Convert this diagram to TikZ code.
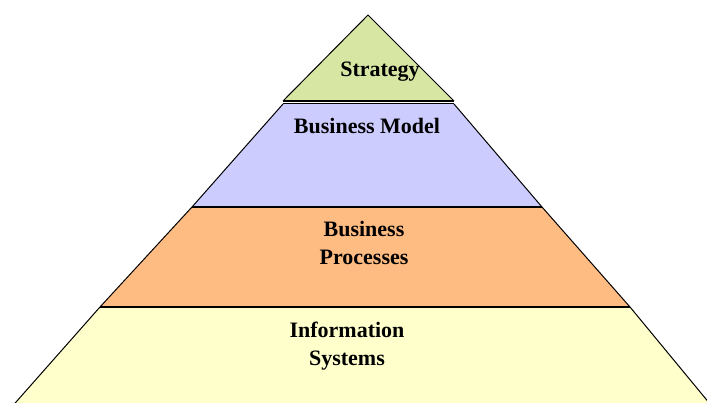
\documentclass[tikz,border=0pt]{standalone}
\usepackage{fontspec}
\setmainfont{Liberation Serif}
\definecolor{stratgreen}{RGB}{216,230,164}
\definecolor{modelblue}{RGB}{204,204,255}
\definecolor{procorange}{RGB}{255,188,130}
\definecolor{infoyellow}{RGB}{255,255,204}
\tikzset{
  layer/.style   = {draw=none},
  edge/.style    = {draw, line width=1pt},
  divider/.style = {draw, line width=2pt},
  tier/.style    = {align=center, inner sep=0pt,
                    font=\fontsize{22}{28}\selectfont\bfseries}
}
\begin{document}
\begin{tikzpicture}[x=1pt, y=-1pt]
\useasboundingbox (0,0) rectangle (707,403);
\clip (0,0) rectangle (707,403);
% layers of the pyramid
\fill[layer, infoyellow] (100,307) -- (630,307) -- (715,410) -- (9,410) -- cycle;
\fill[layer, procorange] (192,207) -- (542,207) -- (630,307) -- (100,307) -- cycle;
\fill[layer, modelblue]  (283,104) -- (454,104) -- (542,207) -- (192,207) -- cycle;
\fill[layer, stratgreen] (368,15) -- (454,101) -- (283,101) -- cycle;
% outline
\draw[edge] (283,101) -- (368,15) -- (454,101);
\draw[edge] (283,104) -- (192,207) -- (100,307) -- (9,410);
\draw[edge] (454,104) -- (542,207) -- (630,307) -- (715,410);
% dividers
\draw[divider] (283,101) -- (454,101);
\draw[edge] (283,104) -- (454,104);
\draw[divider] (192,207) -- (542,207);
\draw[divider] (100,307) -- (630,307);
% labels
\node[tier] (strategy) at (380,72)  {Strategy};
\node[tier] (model)    at (367,126) {Business Model};
\node[tier] (process)  at (364,243) {Business\\Processes};
\node[tier] (info)     at (347,346) {Information\\Systems};
\end{tikzpicture}
\end{document}
